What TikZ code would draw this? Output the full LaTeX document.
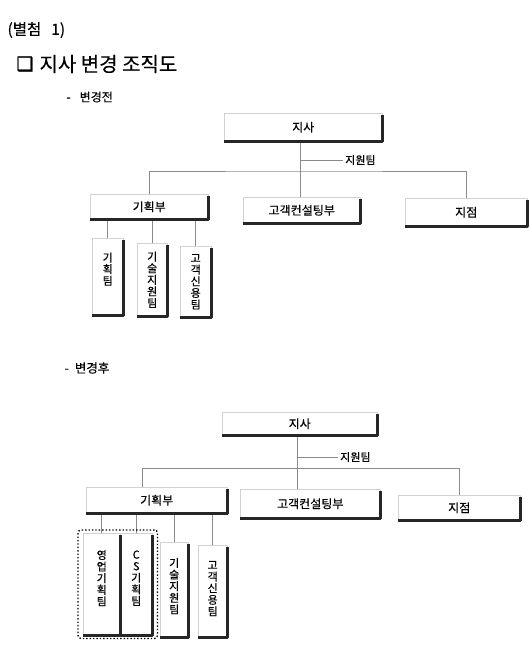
\documentclass[tikz,border=0pt]{standalone}
\usepackage{fontspec}
\setmainfont{Noto Sans CJK KR}[FakeBold=0.3]
\newfontfamily\symbolfont{DejaVu Sans}[FakeBold=1.5]
\usetikzlibrary{positioning,fit}
\definecolor{boxline}{HTML}{D2D2D2}
\definecolor{linkgray}{HTML}{8A8A8A}
\definecolor{shadowdark}{HTML}{262626}

\begin{document}
\begin{tikzpicture}[
  x=1pt,
  y=-1pt,
  line join=round,
  unitbox/.style={draw=boxline,line width=0.5pt,inner sep=0pt,anchor=north west,font=\fontsize{12}{14}\selectfont},
  teambox/.style={unitbox,align=center,font=\fontsize{11}{11.6}\selectfont},
  shadowedge/.style={draw=shadowdark,line width=2.2pt,line cap=butt},
  link/.style={draw=linkgray,line width=0.6pt},
  caption/.style={anchor=west,inner sep=2pt,font=\fontsize{11}{13}\selectfont},
  groupbox/.style={draw=black,line width=1.4pt,dotted,rounded corners=3pt,inner xsep=5pt,inner ysep=3pt}
]
  \useasboundingbox[fill=white] (0,0) rectangle (530,651);

  % Headings.
  \node[anchor=west,font=\fontsize{15.5}{17}\selectfont] (annex) at (4,30) {(별첨\hspace{10pt}1)};
  \node[anchor=west,font=\symbolfont\fontsize{19}{21}\selectfont] (checkmark) at (13,64) {❑};
  \node[anchor=west,font=\fontsize{20}{23}\selectfont] (title) at (36,64) {지사 변경 조직도};
  \node[anchor=west,font=\fontsize{12}{14}\selectfont] (beforehead) at (63,97) {-\hspace{9pt}변경전};
  \node[anchor=west,font=\fontsize{12.5}{14}\selectfont] (afterhead) at (61,368) {-\hspace{6pt}변경후};

  % Before the change.
  \node[unitbox,minimum width=158,minimum height=28] (hqA) at (224,113) {지사};
  \node[unitbox,minimum width=118,minimum height=25] (planA) at (90,194) {기획부};
  \node[unitbox,minimum width=117,minimum height=26] (consultA) at (243,197) {고객컨설팅부};
  \node[unitbox,minimum width=122,minimum height=28] (branchA) at (405,198) {지점};
  \node[teambox,minimum width=31,minimum height=77,text depth=16pt] (teamA1) at (92,238) {기\\획\\팀};
  \node[teambox,minimum width=30,minimum height=73] (teamA2) at (137,243) {기\\술\\지\\원\\팀};
  \node[teambox,minimum width=31,minimum height=71] (teamA3) at (180,246) {고\\객\\신\\용\\팀};

  \coordinate (busA) at (300,171);
  \node[caption] (supportA) at (343,160) {지원팀};
  \draw[link] (hqA.south -| busA) -- (busA);
  \draw[link] (busA |- supportA) -- (supportA.west);
  \draw[link] (planA.north) |- (busA) -| (branchA.north);
  \draw[link] (busA) -- (busA |- consultA.north);
  \foreach \t in {teamA1,teamA2,teamA3} {
    \draw[link] (\t.north) -- (\t.north |- planA.south);
  }

  % After the change.
  \node[unitbox,minimum width=155,minimum height=23] (hqB) at (222,412) {지사};
  \node[unitbox,minimum width=141,minimum height=26] (planB) at (86,487) {기획부};
  \node[unitbox,minimum width=140,minimum height=29] (consultB) at (240,489) {고객컨설팅부};
  \node[unitbox,minimum width=122,minimum height=25] (branchB) at (398,495) {지점};
  \node[teambox,minimum width=37,minimum height=102,text depth=13pt] (teamB1) at (83,533) {영\\업\\기\\획\\팀};
  \node[teambox,minimum width=32,minimum height=102,text depth=13pt] (teamB2) at (120,533) {C\\S\\기\\획\\팀};
  \node[teambox,minimum width=28,minimum height=95,text depth=8pt] (teamB3) at (160,542) {기\\술\\지\\원\\팀};
  \node[teambox,minimum width=29,minimum height=92,text depth=6pt] (teamB4) at (198,545) {고\\객\\신\\용\\팀};

  \coordinate (busB) at (297,468);
  \coordinate (busBwest) at (142,468);
  \node[caption] (supportB) at (338,457) {지원팀};
  \draw[link] (hqB.south -| busB) -- (busB);
  \draw[link] (busB |- supportB) -- (supportB.west);
  \draw[link] (planB.north -| busBwest) -- (busBwest) -| (branchB.north);
  \draw[link] (busB) -- (busB |- consultB.north);
  \foreach \t in {teamB1,teamB2,teamB3,teamB4} {
    \draw[link] (\t.north) -- (\t.north |- planB.south);
  }

  % Heavy right and bottom edges give the boxes their shadow.
  \foreach \n in {hqA,planA,consultA,branchA,teamA1,teamA2,teamA3,
                  hqB,planB,consultB,branchB,teamB1,teamB2,teamB3,teamB4} {
    \draw[shadowedge] ([yshift=-2pt]\n.north east) -- (\n.south east) -- (\n.south west);
  }

  % New sales teams grouped by a dotted frame.
  \node[groupbox,fit=(teamB1)(teamB2)] (salesgroup) {};
\end{tikzpicture}
\end{document}
